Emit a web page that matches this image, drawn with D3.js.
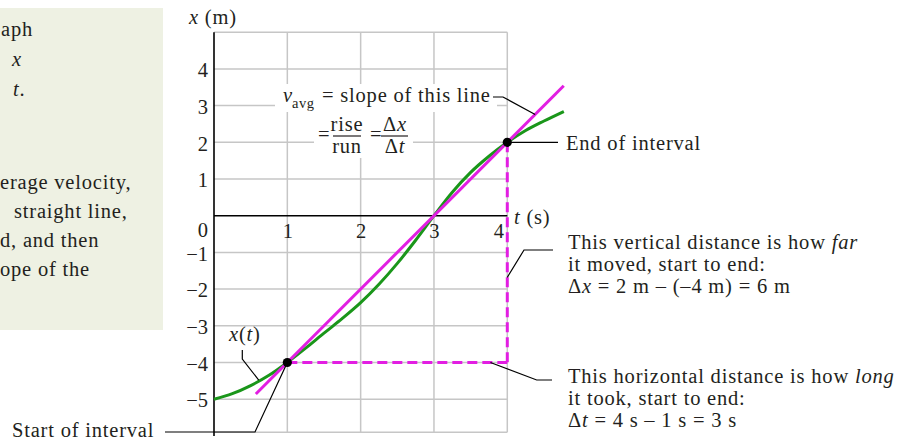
<!DOCTYPE html>
<html>
<head>
<meta charset="utf-8">
<script src="https://cdn.jsdelivr.net/npm/d3@7"></script>
<style>
  body { margin: 0; background: #fff; }
  svg { display: block; font-family: "Liberation Serif", "Times New Roman", serif; }
  .lbl { font-size: 20.5px; fill: #231f20; letter-spacing: 0.8px; }
  .tick text { font-size: 20.5px; fill: #231f20; font-family: "Liberation Serif", serif; }
</style>
</head>
<body>
<svg width="911" height="440"></svg>
<script>
const width = 911
const height = 440

// position-time curve x(t)
const times = [0, 0.25, 0.5, 0.75, 1, 1.25, 1.5, 1.75, 2, 2.25, 2.5, 2.75, 3, 3.25, 3.5, 3.75, 4, 4.25, 4.5, 4.77]
const positions = [-5, -4.85, -4.63, -4.35, -4, -3.61, -3.2, -2.8, -2.37, -1.87, -1.3, -0.67, 0, 0.64, 1.18, 1.62, 2, 2.32, 2.58, 2.84]

// straight line for v_avg (ends)
const chordT = [0.57, 4.77]
const chordX = [-4.86, 3.54]

// interval ends
const startPt = [1, -4]
const endPt = [4, 2]

const tTicks = [1, 2, 3, 4]
const xTicks = [4, 3, 2, 1, 0, -1, -2, -3, -4, -5]
const xGrid = [5, 4, 3, 2, 1, -1, -2, -3, -4, -5, -5.9]

const magenta = "#e21ee2"
const green = "#1a961a"

const tScale = d3.scaleLinear().domain([0, 4]).range([214, 507.3])
const xScale = d3.scaleLinear().domain([-6, 5]).range([435.9, 32.2])

const svg = d3.select("svg")

// left note box
svg.append("rect")
    .attr("x", 0).attr("y", 8)
    .attr("width", 163).attr("height", 322)
    .style("fill", "#eef1e3")

const note = svg.append("g").attr("class", "lbl")
const addLine = (x, y, parts) => {
    const t = note.append("text").attr("x", x).attr("y", y)
    parts.forEach(p => {
        t.append("tspan").text(p[0]).style("font-style", p[1] ? "italic" : "normal")
    })
}
addLine(1, 36, [["aph"]])
addLine(12, 66, [["x", true]])
addLine(13, 96, [["t", true], ["."]])
addLine(0, 189, [["erage velocity,"]])
addLine(14, 218, [["straight line,"]])
addLine(0, 247, [["d, and then"]])
addLine(0, 276, [["ope of the"]])

// grid
const grid = svg.append("g")
    .style("stroke", "#c6c6c6")
    .style("stroke-width", 1.5)

grid.selectAll(".hgrid")
    .data(xGrid)
    .enter()
    .append("line")
        .attr("x1", tScale(0))
        .attr("x2", tScale(4))
        .attr("y1", d => xScale(d))
        .attr("y2", d => xScale(d))

grid.selectAll(".vgrid")
    .data(tTicks)
    .enter()
    .append("line")
        .attr("x1", d => tScale(d))
        .attr("x2", d => tScale(d))
        .attr("y1", xScale(5))
        .attr("y2", xScale(-5.9))

// white boxes behind the formula
svg.append("rect")
    .attr("x", 275).attr("y", 84).attr("width", 222).attr("height", 28)
    .style("fill", "#fff")
svg.append("rect")
    .attr("x", 314).attr("y", 112).attr("width", 99).attr("height", 46)
    .style("fill", "#fff")

// axes lines
svg.append("line")
    .attr("x1", tScale(0)).attr("x2", tScale(0))
    .attr("y1", xScale(5)).attr("y2", xScale(-6))
    .style("stroke", "#000").style("stroke-width", 1.6)
svg.append("line")
    .attr("x1", tScale(0)).attr("x2", tScale(4))
    .attr("y1", xScale(0)).attr("y2", xScale(0))
    .style("stroke", "#000").style("stroke-width", 1.6)

// tick labels
const yAxis = svg.append("g")
    .attr("transform", `translate(${tScale(0)},0)`)
    .call(d3.axisLeft(xScale).tickValues(xTicks).tickFormat(d3.format("d")).tickSize(0).tickPadding(6))
yAxis.select(".domain").remove()
yAxis.selectAll("text")
    .attr("dy", d => d === 0 ? "1.0em" : "0.38em")

const tAxis = svg.append("g")
    .attr("transform", `translate(0,${xScale(0)})`)
    .call(d3.axisBottom(tScale).tickValues(tTicks).tickFormat(d3.format("d")).tickSize(0).tickPadding(8))
tAxis.select(".domain").remove()
tAxis.selectAll("text")
    .attr("dx", d => d === 4 ? -9 : 0)

// axis titles
const xt = svg.append("text").attr("class", "lbl").attr("x", 189).attr("y", 24)
xt.append("tspan").text("x").style("font-style", "italic")
xt.append("tspan").text(" (m)")
const tt = svg.append("text").attr("class", "lbl").attr("x", 514).attr("y", 224)
tt.append("tspan").text("t").style("font-style", "italic")
tt.append("tspan").text(" (s)")

// curve and chord
const curve = d3.line()
    .x(d => tScale(d[0]))
    .y(d => xScale(d[1]))
    .curve(d3.curveMonotoneX)

svg.append("path")
    .datum(times.map((t, i) => [t, positions[i]]))
    .attr("d", curve)
    .style("fill", "none")
    .style("stroke", green)
    .style("stroke-width", 3)

svg.append("path")
    .datum(chordT.map((t, i) => [t, chordX[i]]))
    .attr("d", d3.line().x(d => tScale(d[0])).y(d => xScale(d[1])))
    .style("fill", "none")
    .style("stroke", magenta)
    .style("stroke-width", 3)

// dashed rise / run
const corner = [endPt[0], startPt[1]]
svg.selectAll(".dash")
    .data([[startPt, corner], [endPt, corner]])
    .enter()
    .append("line")
        .attr("x1", d => tScale(d[0][0]))
        .attr("y1", d => xScale(d[0][1]))
        .attr("x2", d => tScale(d[1][0]))
        .attr("y2", d => xScale(d[1][1]))
        .style("stroke", magenta)
        .style("stroke-width", 3)
        .style("stroke-dasharray", "10,5")

// leader lines
const leader = (pts) => svg.append("path")
    .attr("d", d3.line()(pts))
    .style("fill", "none")
    .style("stroke", "#000")
    .style("stroke-width", 1.2)

leader([[493, 97], [503, 97], [tScale(4.38), xScale(2.76)]])
leader([[tScale(endPt[0]), xScale(endPt[1])], [558, xScale(endPt[1])]])
leader([[tScale(startPt[0]), xScale(startPt[1])], [255, 432], [165, 432]])
leader([[242.3, 350], [242.3, 359], [tScale(0.61), xScale(-4.48)]])
leader([[tScale(4), xScale(-1.68)], [524, 250], [553, 250]])
leader([[tScale(3.77), xScale(-4)], [536.7, 380], [552, 380]])

// endpoints
svg.selectAll(".pt")
    .data([startPt, endPt])
    .enter()
    .append("circle")
        .attr("cx", d => tScale(d[0]))
        .attr("cy", d => xScale(d[1]))
        .attr("r", 4.6)
        .style("fill", "#000")

// text annotations
const lbl = (x, y, parts, size) => {
    const t = svg.append("text").attr("class", "lbl").attr("x", x).attr("y", y)
    if (size) t.style("font-size", size + "px")
    parts.forEach(p => {
        t.append("tspan").text(p[0]).style("font-style", p[1] ? "italic" : "normal")
    })
    return t
}

lbl(283, 102, [["v", true]])
lbl(292, 108, [["avg"]], 14.5).style("letter-spacing", "0.5px")
lbl(322, 102, [["= slope of this line"]])

lbl(318, 141, [["="]])
lbl(347, 131, [["rise"]]).attr("text-anchor", "middle")
lbl(347, 153, [["run"]]).attr("text-anchor", "middle")
lbl(370, 141, [["="]])
lbl(395, 131, [["Δ"], ["x", true]]).attr("text-anchor", "middle")
lbl(395, 153, [["Δ"], ["t", true]]).attr("text-anchor", "middle")
svg.selectAll(".bar")
    .data([[333, 361], [381, 408]])
    .enter()
    .append("line")
        .attr("x1", d => d[0]).attr("x2", d => d[1])
        .attr("y1", 136).attr("y2", 136)
        .style("stroke", "#231f20").style("stroke-width", 1.2)

lbl(229, 341, [["x", true], ["("], ["t", true], [")"]])
lbl(12, 437, [["Start of interval"]])
lbl(566, 150, [["End of interval"]])

lbl(568, 249, [["This vertical distance is how "], ["far", true]])
lbl(568, 271, [["it moved, start to end:"]])
lbl(568, 293, [["Δ"], ["x", true], [" = 2 m – (–4 m) = 6 m"]])

lbl(568, 383, [["This horizontal distance is how "], ["long", true]])
lbl(568, 405, [["it took, start to end:"]])
lbl(568, 427, [["Δ"], ["t", true], [" = 4 s – 1 s = 3 s"]])
</script>
</body>
</html>
